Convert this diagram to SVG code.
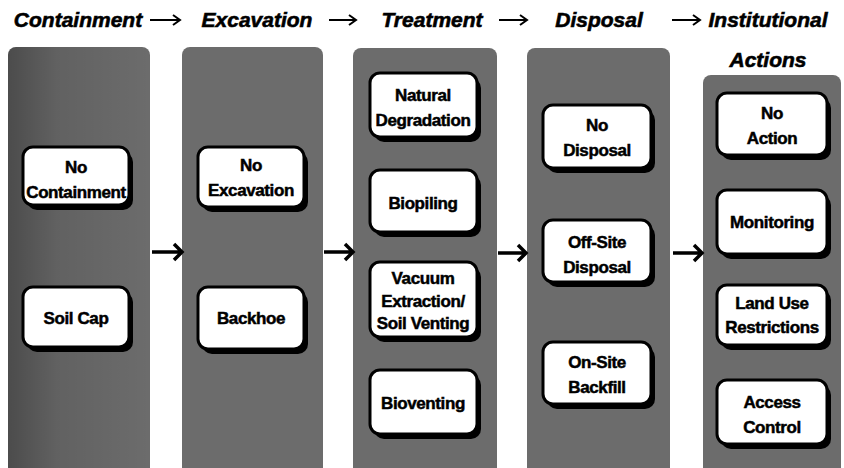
<svg xmlns="http://www.w3.org/2000/svg" width="844" height="468" viewBox="0 0 844 468">
<style>
.hd{font-family:"Liberation Sans",Arial,sans-serif;font-weight:bold;font-style:italic;font-size:21px;fill:#000;stroke:#000;stroke-width:0.6;text-anchor:middle}
.col{fill:#6c6c6c}
.sh{fill:#000}
.bx{fill:#fff;stroke:#000;stroke-width:3}
.t{font-family:"Liberation Sans",Arial,sans-serif;font-weight:bold;font-size:17px;fill:#000;stroke:#000;stroke-width:0.5;text-anchor:middle;letter-spacing:-0.4px}
.ar{fill:none;stroke:#000;stroke-width:3.5;stroke-linecap:butt}
.ha{fill:none;stroke:#000;stroke-width:2}
</style>
<defs>
<linearGradient id="dk" x1="0" x2="1" y1="0" y2="0">
<stop offset="0" stop-color="#000" stop-opacity="0.3"/>
<stop offset="0.35" stop-color="#000" stop-opacity="0.1"/>
<stop offset="1" stop-color="#000" stop-opacity="0"/>
</linearGradient>
</defs>
<rect width="844" height="468" fill="#fff"/>

<g id="headers">
<text class="hd" x="78" y="27">Containment</text>
<text class="hd" x="257" y="27">Excavation</text>
<text class="hd" x="432" y="27">Treatment</text>
<text class="hd" x="599" y="27">Disposal</text>
<text class="hd" x="768" y="27">Institutional</text>
<text class="hd" x="768" y="67">Actions</text>
</g>

<g id="columns">
<rect class="col" x="8" y="47" width="142" height="430" rx="8"/>
<rect x="8" y="47" width="142" height="430" rx="8" fill="url(#dk)"/>
<rect class="col" x="182" y="47" width="141" height="430" rx="8"/>
<rect class="col" x="353" y="48" width="144" height="430" rx="8"/>
<rect class="col" x="527" y="48" width="143" height="430" rx="8"/>
<rect class="col" x="703" y="75" width="138" height="400" rx="8"/>
</g>

<g id="connectors">
<path class="ha" d="M150 20 H179 M173 15 L180 20 L173 25"/>
<path class="ha" d="M329 20 H355 M349 15 L356 20 L349 25"/>
<path class="ha" d="M499 20 H526 M520 15 L527 20 L520 25"/>
<path class="ha" d="M672 20 H699 M693 15 L700 20 L693 25"/>
<path class="ar" d="M152 252 H181 M174 244 L182 252 L174 260"/>
<path class="ar" d="M324 252 H352 M345 244 L353 252 L345 260"/>
<path class="ar" d="M498 253 H525 M518 245 L526 253 L518 261"/>
<path class="ar" d="M673 253 H701 M694 245 L702 253 L694 261"/>
</g>

<g id="n-no-containment"><rect class="sh" x="27" y="152" width="106" height="58" rx="10"/><rect class="bx" x="23" y="147" width="106" height="58" rx="10"/><text class="t" x="76" y="173">No</text><text class="t" x="76" y="198">Containment</text></g>
<g id="n-soil-cap"><rect class="sh" x="27" y="292" width="106" height="60" rx="10"/><rect class="bx" x="23" y="287" width="106" height="60" rx="10"/><text class="t" x="76" y="324">Soil Cap</text></g>

<g id="n-no-excavation"><rect class="sh" x="202" y="152" width="106" height="60" rx="10"/><rect class="bx" x="198" y="147" width="106" height="60" rx="10"/><text class="t" x="251" y="171">No</text><text class="t" x="251" y="196">Excavation</text></g>
<g id="n-backhoe"><rect class="sh" x="202" y="292" width="106" height="62" rx="10"/><rect class="bx" x="198" y="287" width="106" height="62" rx="10"/><text class="t" x="251" y="324">Backhoe</text></g>

<g id="n-natural-degradation"><rect class="sh" x="374" y="78" width="107" height="64" rx="10"/><rect class="bx" x="370" y="73" width="107" height="64" rx="10"/><text class="t" x="423" y="101">Natural</text><text class="t" x="423" y="126">Degradation</text></g>
<g id="n-biopiling"><rect class="sh" x="374" y="175" width="107" height="62" rx="10"/><rect class="bx" x="370" y="170" width="107" height="62" rx="10"/><text class="t" x="423" y="209">Biopiling</text></g>
<g id="n-vacuum"><rect class="sh" x="374" y="267" width="107" height="75" rx="10"/><rect class="bx" x="370" y="262" width="107" height="75" rx="10"/><text class="t" x="423" y="284">Vacuum</text><text class="t" x="423" y="307">Extraction/</text><text class="t" x="423" y="329">Soil Venting</text></g>
<g id="n-bioventing"><rect class="sh" x="374" y="375" width="107" height="64" rx="10"/><rect class="bx" x="370" y="370" width="107" height="64" rx="10"/><text class="t" x="423" y="409">Bioventing</text></g>

<g id="n-no-disposal"><rect class="sh" x="547" y="110" width="108" height="63" rx="10"/><rect class="bx" x="543" y="105" width="108" height="63" rx="10"/><text class="t" x="597" y="131">No</text><text class="t" x="597" y="156">Disposal</text></g>
<g id="n-offsite"><rect class="sh" x="547" y="225" width="108" height="62" rx="10"/><rect class="bx" x="543" y="220" width="108" height="62" rx="10"/><text class="t" x="597" y="248">Off-Site</text><text class="t" x="597" y="273">Disposal</text></g>
<g id="n-onsite"><rect class="sh" x="547" y="347" width="108" height="62" rx="10"/><rect class="bx" x="543" y="342" width="108" height="62" rx="10"/><text class="t" x="597" y="368">On-Site</text><text class="t" x="597" y="393">Backfill</text></g>

<g id="n-no-action"><rect class="sh" x="721" y="98" width="110" height="62" rx="10"/><rect class="bx" x="717" y="93" width="110" height="62" rx="10"/><text class="t" x="772" y="119">No</text><text class="t" x="772" y="144">Action</text></g>
<g id="n-monitoring"><rect class="sh" x="721" y="195" width="110" height="64" rx="10"/><rect class="bx" x="717" y="190" width="110" height="64" rx="10"/><text class="t" x="772" y="228">Monitoring</text></g>
<g id="n-land-use"><rect class="sh" x="721" y="290" width="110" height="60" rx="10"/><rect class="bx" x="717" y="285" width="110" height="60" rx="10"/><text class="t" x="772" y="309">Land Use</text><text class="t" x="772" y="333">Restrictions</text></g>
<g id="n-access"><rect class="sh" x="721" y="385" width="110" height="64" rx="10"/><rect class="bx" x="717" y="380" width="110" height="64" rx="10"/><text class="t" x="772" y="408">Access</text><text class="t" x="772" y="433">Control</text></g>
</svg>
